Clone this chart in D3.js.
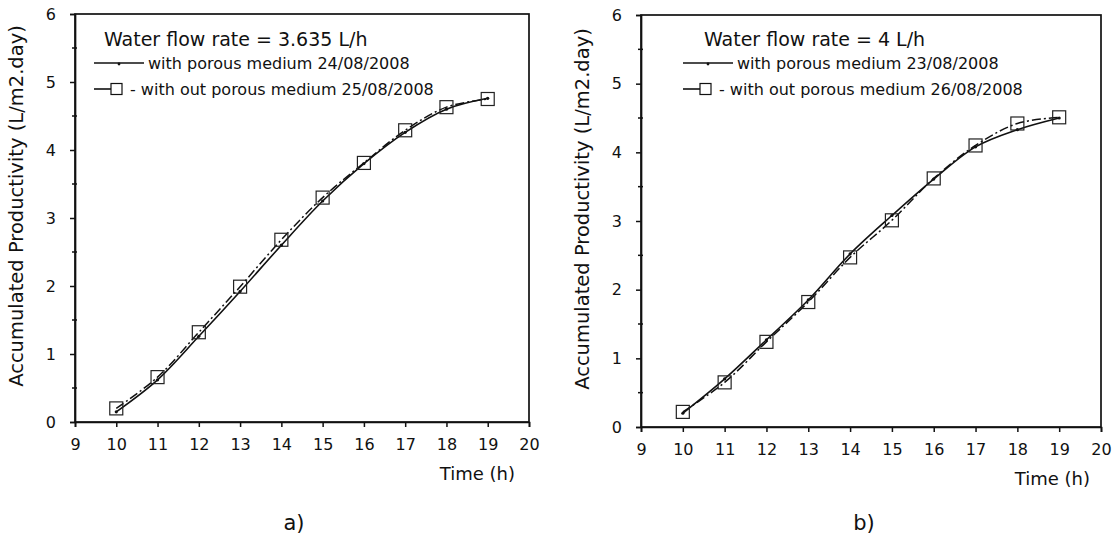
<!DOCTYPE html>
<html>
<head>
<meta charset="utf-8">
<script src="https://cdn.jsdelivr.net/npm/d3@7"></script>
<style>
  html, body { margin: 0; padding: 0; background: #fff; }
  svg { display: block; }
  text { font-family: "DejaVu Sans", "Liberation Sans", Arial, sans-serif; fill: #111; }
</style>
</head>
<body>
<svg id="chart" width="1120" height="546"></svg>
<script>
// ---- data ----
const hours = [10, 11, 12, 13, 14, 15, 16, 17, 18, 19];
const xTicks = [9, 10, 11, 12, 13, 14, 15, 16, 17, 18, 19, 20];
const yTicks = [0, 1, 2, 3, 4, 5, 6];

// panel a) water flow rate 3.635 L/h
const aWithPorous    = [0.15, 0.62, 1.26, 1.92, 2.60, 3.25, 3.80, 4.26, 4.60, 4.76];
const aWithoutPorous = [0.20, 0.66, 1.32, 1.99, 2.68, 3.30, 3.81, 4.29, 4.63, 4.75];
// panel b) water flow rate 4 L/h
const bWithPorous    = [0.20, 0.70, 1.27, 1.85, 2.52, 3.08, 3.61, 4.08, 4.33, 4.50];
const bWithoutPorous = [0.22, 0.65, 1.24, 1.82, 2.47, 3.01, 3.62, 4.10, 4.42, 4.51];

const titles = ["Water flow rate = 3.635 L/h", "Water flow rate = 4 L/h"];
const legendWith = ["with porous medium 24/08/2008", "with porous medium 23/08/2008"];
const legendWithout = ["- with out porous medium 25/08/2008", "- with out porous medium 26/08/2008"];
const captions = ["a)", "b)"];
const yLabel = "Accumulated Productivity (L/m2.day)";
const xLabel = "Time (h)";

const FONT = "DejaVu Sans, Liberation Sans, Arial, sans-serif";
const svg = d3.select("#chart");

function panel(opts) {
  const { x0, x1, y0, y1, withP, withoutP, idx } = opts;
  const x = d3.scaleLinear().domain([9, 20]).range([x0, x1]);
  const y = d3.scaleLinear().domain([0, 6]).range([y0, y1]);
  const g = svg.append("g");

  // frame
  g.append("rect").attr("x", x0).attr("y", y1).attr("width", x1 - x0).attr("height", y0 - y1)
    .attr("fill", "none").attr("stroke", "#111").attr("stroke-width", 1.7);

  // x axis
  const xa = g.append("g").attr("transform", `translate(0,${y0})`)
    .call(d3.axisBottom(x).tickValues(xTicks).tickFormat(d3.format("d")).tickSize(5).tickPadding(12));
  xa.select(".domain").attr("stroke", "#111").attr("stroke-width", 1.7);
  xa.selectAll(".tick line").attr("stroke", "#111").attr("stroke-width", 1.5);
  xa.selectAll(".tick text").attr("font-size", 16).attr("fill", "#111").attr("font-family", FONT);

  // y axis
  const ya = g.append("g").attr("transform", `translate(${x0},0)`)
    .call(d3.axisLeft(y).tickValues(yTicks).tickFormat(d3.format("d")).tickSize(5).tickPadding(14));
  ya.select(".domain").attr("stroke", "#111").attr("stroke-width", 1.7);
  ya.selectAll(".tick line").attr("stroke", "#111").attr("stroke-width", 1.5);
  ya.selectAll(".tick text").attr("font-size", 16).attr("fill", "#111").attr("font-family", FONT);
  // minor y ticks
  const minor = d3.range(0.5, 6, 1);
  g.selectAll(".minor").data(minor).enter().append("line")
    .attr("x1", x0 - 3).attr("x2", x0 + 2)
    .attr("y1", d => y(d)).attr("y2", d => y(d))
    .attr("stroke", "#111").attr("stroke-width", 1.5);

  // axis labels
  g.append("text").attr("transform", `translate(${x0 - 52},${(y0 + y1) / 2 - 12}) rotate(-90)`)
    .attr("text-anchor", "middle").attr("font-size", 19.5).text(yLabel);
  g.append("text").attr("x", x1 - opts.timeOff).attr("y", y0 + 58).attr("text-anchor", "end")
    .attr("font-size", 18).text(xLabel);

  // lines
  const pts1 = hours.map((h, i) => [h, withP[i]]);
  const pts2 = hours.map((h, i) => [h, withoutP[i]]);
  const lineSmooth = d3.line().x(d => x(d[0])).y(d => y(d[1])).curve(d3.curveCatmullRom.alpha(0.5));

  g.append("path").datum(pts2).attr("d", lineSmooth).attr("fill", "none")
    .attr("stroke", "#111").attr("stroke-width", 1.5).attr("stroke-dasharray", "9,3,2,3");
  g.append("path").datum(pts1).attr("d", lineSmooth).attr("fill", "none")
    .attr("stroke", "#111").attr("stroke-width", 1.6);

  // markers
  g.selectAll(".sq").data(pts2).enter().append("rect")
    .attr("x", d => x(d[0]) - 6.5).attr("y", d => y(d[1]) - 6.5)
    .attr("width", 13).attr("height", 13)
    .attr("fill", "none").attr("stroke", "#222").attr("stroke-width", 1.2);
  g.selectAll(".dot").data(pts1).enter().append("circle")
    .attr("cx", d => x(d[0])).attr("cy", d => y(d[1])).attr("r", 1.6)
    .attr("fill", "#111");

  // legend
  const L = opts.legend;
  g.append("text").attr("x", L.titleX).attr("y", 46).attr("font-size", 19).text(titles[idx]);
  g.append("line").attr("x1", L.lineX).attr("x2", L.lineX + 50).attr("y1", 63).attr("y2", 63)
    .attr("stroke", "#111").attr("stroke-width", 1.6);
  g.append("circle").attr("cx", L.lineX + 25).attr("cy", 64).attr("r", 1.4).attr("fill", "#111");
  g.append("text").attr("x", L.lineX + 54).attr("y", 69).attr("font-size", 16).text(legendWith[idx]);
  g.append("line").attr("x1", L.lineX).attr("x2", L.lineX + 18).attr("y1", 89).attr("y2", 89)
    .attr("stroke", "#111").attr("stroke-width", 1.6);
  g.append("rect").attr("x", L.lineX + 17).attr("y", 83.5).attr("width", 11).attr("height", 11)
    .attr("fill", "#fff").attr("stroke", "#111").attr("stroke-width", 1.2);
  g.append("text").attr("x", L.lineX + 36).attr("y", 95).attr("font-size", 16).text(legendWithout[idx]);

  // caption
  g.append("text").attr("x", opts.capX).attr("y", 530).attr("text-anchor", "middle")
    .attr("font-family", "Liberation Serif, Times New Roman, serif").attr("font-size", 21)
    .text(captions[idx]);
}

panel({ x0: 75, x1: 529, y0: 422, y1: 14, withP: aWithPorous, withoutP: aWithoutPorous, idx: 0,
        legend: { titleX: 104, lineX: 94 }, capX: 294, timeOff: 14 });
panel({ x0: 641, x1: 1101, y0: 427, y1: 15, withP: bWithPorous, withoutP: bWithoutPorous, idx: 1,
        legend: { titleX: 704, lineX: 683 }, capX: 864, timeOff: 11 });
</script>
</body>
</html>
